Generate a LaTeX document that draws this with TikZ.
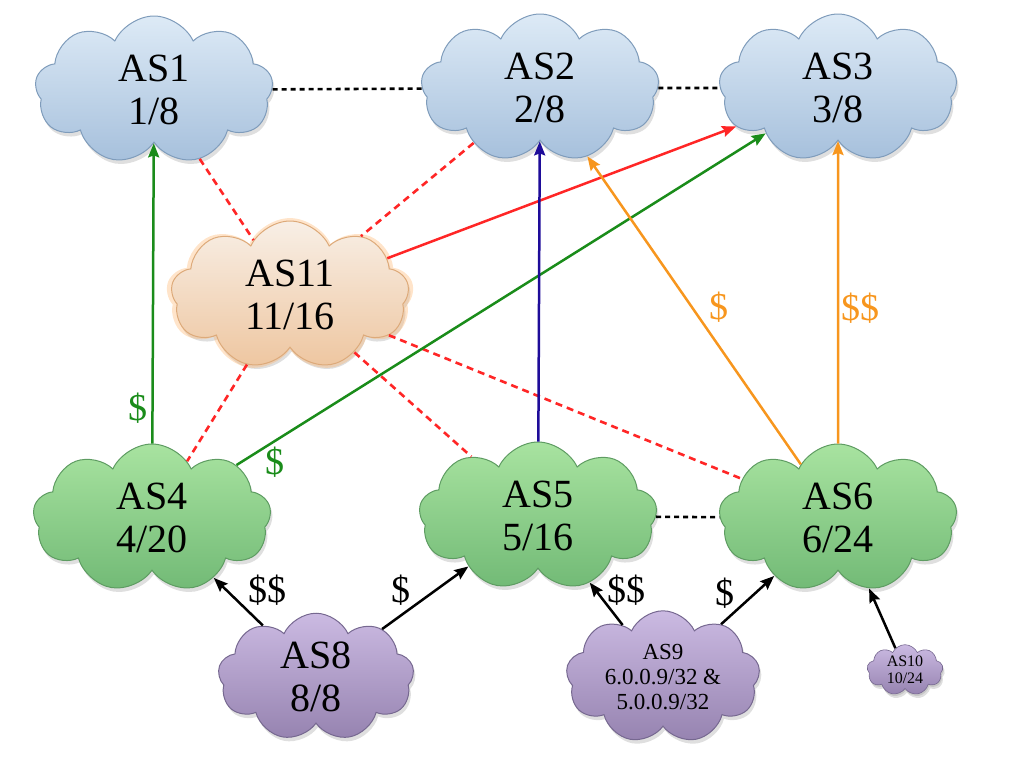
\documentclass[tikz,border=0pt]{standalone}
\usepackage{fontspec}
\setmainfont{Liberation Serif}
\usetikzlibrary{shapes.symbols,shadows,arrows.meta}
\definecolor{blueT}{HTML}{DDEAF6}
\definecolor{blueB}{HTML}{A6C0DC}
\definecolor{blueD}{HTML}{7F9CBB}
\definecolor{greenT}{HTML}{A8E3A0}
\definecolor{greenB}{HTML}{72BA76}
\definecolor{greenD}{HTML}{5E9C62}
\definecolor{peachT}{HTML}{F8EFE6}
\definecolor{peachB}{HTML}{EEC6A0}
\definecolor{peachD}{HTML}{DDAA7A}
\definecolor{purpT}{HTML}{CBBAE2}
\definecolor{purpB}{HTML}{9683B0}
\definecolor{purpD}{HTML}{766890}
\definecolor{redL}{HTML}{FF2626}
\definecolor{greenL}{HTML}{1A8C1A}
\definecolor{navyL}{HTML}{1E0C99}
\definecolor{orangeL}{HTML}{F7961E}
\tikzset{
  as/.style={cloud, cloud puffs=9, cloud puff arc=130, aspect=1.6, align=center,
    inner sep=0pt, line width=1pt, font=\fontsize{40}{43}\selectfont,
    minimum width=238pt, minimum height=148pt,
    drop shadow={shadow xshift=2pt, shadow yshift=-4pt, opacity=0.25}},
  blueas/.style={as, draw=blueD, top color=blueT, bottom color=blueB},
  greenas/.style={as, draw=greenD, top color=greenT, bottom color=greenB},
  peachas/.style={as, draw=peachD, top color=peachT, bottom color=peachB,
    drop shadow={shadow xshift=0pt, shadow yshift=0pt, shadow scale=1.04, fill=orange!60, opacity=0.35}},
  purpas/.style={as, draw=purpD, top color=purpT, bottom color=purpB},
  dotblk/.style={black, line width=2.6pt, dash pattern=on 5pt off 4pt},
  reddash/.style={redL, line width=2.6pt, dash pattern=on 7pt off 5pt},
  arr/.style={-{Stealth[length=14pt,width=11pt,inset=2pt]}, line width=2.5pt},
  dol/.style={font=\fontsize{38}{40}\selectfont, inner sep=0pt}
}
\begin{document}
\begin{tikzpicture}[x=1pt,y=-1pt]
\useasboundingbox (0,0) rectangle (1024,768);
% clouds
\node[blueas] (as1) at (154,90) {AS1\\1/8};
\node[blueas] (as2) at (540,88) {AS2\\2/8};
\node[blueas] (as3) at (838,88) {AS3\\3/8};
\node[peachas] (as11) at (290,295) {AS11\\11/16};
\node[greenas] (as4) at (152,518) {AS4\\4/20};
\node[greenas] (as5) at (538,516) {AS5\\5/16};
\node[greenas] (as6) at (838,518) {AS6\\6/24};
\node[purpas, minimum width=196pt, minimum height=124pt] (as8) at (316,677) {AS8\\8/8};
\node[purpas, minimum width=194pt, minimum height=124pt, font=\fontsize{23}{25}\selectfont] (as9) at (663,677) {AS9\\6.0.0.9/32 \&\\5.0.0.9/32};
\node[purpas, minimum width=76pt, minimum height=46pt, line width=0.6pt, font=\fontsize{16}{17}\selectfont,
  drop shadow={shadow xshift=1pt, shadow yshift=-2pt, opacity=0.25}] (as10) at (905,670) {AS10\\10/24};
% peering
\draw[dotblk] (as1) -- (as2);
\draw[dotblk] (as2) -- (as3);
\draw[dotblk] (as5) -- (as6);
\draw[reddash] (as1) -- (as11);
\draw[reddash] (as2) -- (as11);
\draw[reddash] (as11) -- (as4);
\draw[reddash] (as11) -- (as5);
\draw[reddash] (as11) -- (as6);
% transit
\draw[arr, redL] (as11) -- (as3);
\draw[arr, greenL] (as4) -- (as1);
\draw[arr, greenL] (as4) -- (as3);
\draw[arr, navyL] (as5) -- (as2);
\draw[arr, orangeL] (as6) -- (as2);
\draw[arr, orangeL] (as6) -- (as3);
\draw[arr, black] (as8) -- (as4);
\draw[arr, black] (as8) -- (as5);
\draw[arr, black] (as9) -- (as5);
\draw[arr, black] (as9) -- (as6);
\draw[arr, black] (as10) -- (as6);
% labels
\node[dol, greenL] (d1) at (138,408) {\$};
\node[dol, greenL] (d2) at (275,462) {\$};
\node[dol, orangeL] (d3) at (719,307) {\$};
\node[dol, orangeL] (d4) at (860,308) {\$\$};
\node[dol] (d5) at (267,590) {\$\$};
\node[dol] (d6) at (401,590) {\$};
\node[dol] (d7) at (626,590) {\$\$};
\node[dol] (d8) at (725,593) {\$};
\end{tikzpicture}
\end{document}
